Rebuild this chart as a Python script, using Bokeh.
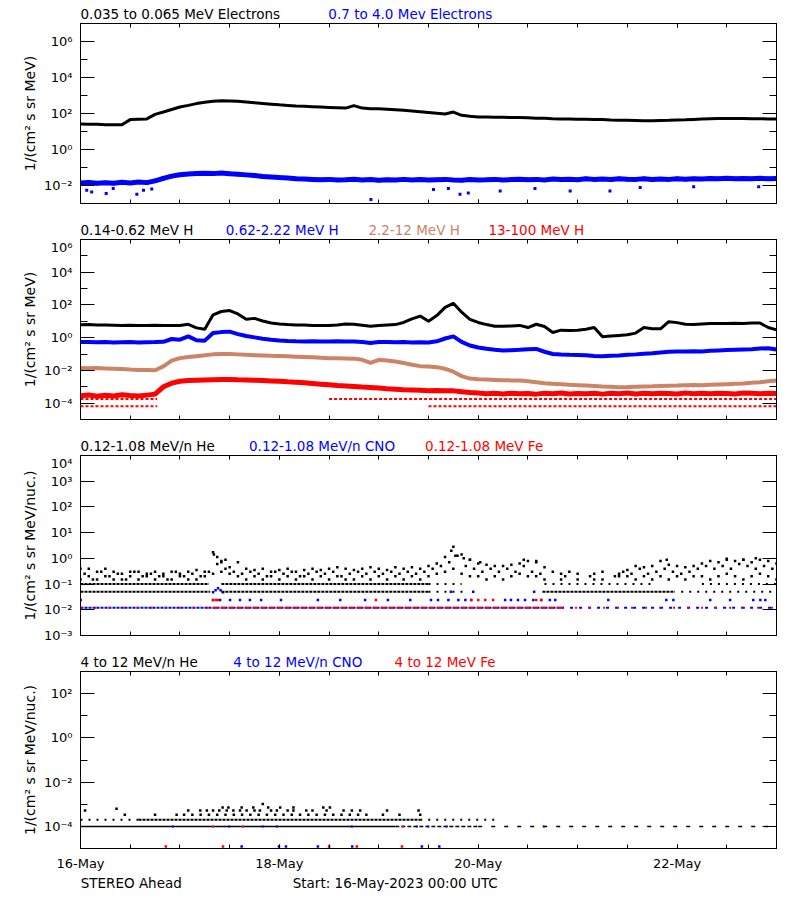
import numpy as np
import pandas as pd
from bokeh.plotting import figure
from bokeh.layouts import column
from bokeh.models import (Range1d, FixedTicker, CustomJSTickFormatter, DatetimeTickFormatter,
                          LogAxis, DatetimeAxis)
from bokeh.core.properties import value
from bokeh.embed import file_html
from bokeh.resources import INLINE

nan = float("nan")

START = pd.Timestamp("2023-05-16 00:00")
END = pd.Timestamp("2023-05-23 00:00")
HOURS_2H = list(range(0, 169, 2))      # sample times, every 2 h
HOURS_ODD = list(range(1, 168, 2))     # sample times, odd hours

# ---------------- Panel 1 : electrons (log10 flux) ----------------
ELEC_LO_LOG = [1.41, 1.40, 1.40, 1.38, 1.37, 1.37, 1.66, 1.68, 1.70, 1.95, 2.08, 2.22,
               2.36, 2.45, 2.55, 2.62, 2.68, 2.71, 2.70, 2.68, 2.64, 2.60, 2.56, 2.52,
               2.48, 2.45, 2.42, 2.40, 2.38, 2.36, 2.34, 2.32, 2.30, 2.44, 2.30, 2.27,
               2.26, 2.24, 2.21, 2.18, 2.14, 2.10, 2.06, 2.02, 1.97, 2.08, 1.90, 1.85,
               1.81, 1.80, 1.79, 1.79, 1.78, 1.78, 1.76, 1.74, 1.73, 1.71, 1.70, 1.69,
               1.68, 1.68, 1.67, 1.66, 1.64, 1.63, 1.62, 1.61, 1.60, 1.60, 1.61, 1.62,
               1.64, 1.65, 1.67, 1.69, 1.71, 1.72, 1.72, 1.72, 1.72, 1.71, 1.71, 1.70, 1.70]
ELEC_HI_LOG = [-1.86, -1.83, -1.88, -1.85, -1.87, -1.82, -1.86, -1.80, -1.84, -1.74, -1.60, -1.48,
               -1.40, -1.36, -1.33, -1.32, -1.34, -1.31, -1.35, -1.37, -1.41, -1.45, -1.50, -1.53,
               -1.56, -1.58, -1.62, -1.64, -1.66, -1.68, -1.66, -1.70, -1.68, -1.65, -1.69, -1.67,
               -1.71, -1.68, -1.70, -1.66, -1.69, -1.67, -1.70, -1.68, -1.66, -1.69, -1.71, -1.67,
               -1.69, -1.68, -1.66, -1.70, -1.67, -1.65, -1.68, -1.66, -1.69, -1.64, -1.67, -1.65,
               -1.68, -1.63, -1.66, -1.64, -1.67, -1.62, -1.65, -1.66, -1.63, -1.67, -1.64, -1.66,
               -1.63, -1.65, -1.62, -1.64, -1.61, -1.63, -1.60, -1.63, -1.61, -1.62, -1.60, -1.62, -1.61]
ELEC_HI_OUT_HOURS = [1.5, 2.7, 6.2, 7.9, 13.6, 15.2, 17.2, 70.1, 85.2, 88.8, 91.6, 93.6,
                     101.3, 109.7, 118.2, 127.8, 135.1, 148.0, 163.7]
ELEC_HI_OUT_LOG = [-2.26, -2.36, -2.45, -2.17, -2.48, -2.26, -2.20, -2.78, -2.22, -2.17, -2.48, -2.41,
                   -2.30, -2.17, -2.30, -2.30, -2.11, -2.07, -2.07]

# ---------------- Panel 2 : protons (log10 flux) ----------------
H_LO_LOG = [0.79, 0.80, 0.78, 0.77, 0.76, 0.75, 0.76, 0.74, 0.75, 0.76, 0.75, 0.74,
            0.75, 0.82, 0.60, 0.52, 1.40, 1.60, 1.66, 1.45, 1.12, 1.18, 1.02, 0.90,
            0.84, 0.80, 0.78, 0.77, 0.75, 0.74, 0.75, 0.78, 0.84, 0.82, 0.76, 0.70,
            0.74, 0.78, 0.80, 0.93, 1.15, 1.32, 1.00, 1.35, 1.85, 2.10, 1.56, 1.12,
            0.93, 0.80, 0.70, 0.70, 0.72, 0.75, 0.62, 0.82, 0.68, 0.32, 0.46, 0.44,
            0.46, 0.52, 0.62, 0.05, 0.10, 0.14, 0.18, 0.28, 0.62, 0.55, 0.54, 0.98,
            0.92, 0.82, 0.80, 0.83, 0.86, 0.87, 0.86, 0.88, 0.87, 0.89, 0.90, 0.62, 0.48]
H_MID_LOG = [-0.27, -0.26, -0.28, -0.27, -0.29, -0.28, -0.27, -0.29, -0.28, -0.27, -0.25, -0.08,
             -0.12, 0.08, -0.16, -0.18, 0.28, 0.34, 0.37, 0.22, 0.10, 0.02, -0.06, -0.12,
             -0.17, -0.20, -0.22, -0.23, -0.22, -0.24, -0.23, -0.22, -0.24, -0.23, -0.27, -0.32,
             -0.27, -0.26, -0.28, -0.27, -0.29, -0.28, -0.30, -0.22, -0.05, 0.08, -0.26, -0.48,
             -0.60, -0.68, -0.74, -0.78, -0.77, -0.74, -0.70, -0.69, -0.86, -1.00, -1.03, -1.05,
             -1.06, -1.08, -1.12, -1.13, -1.10, -1.09, -1.05, -1.02, -0.98, -0.95, -0.90, -0.86,
             -0.84, -0.85, -0.83, -0.84, -0.80, -0.78, -0.76, -0.74, -0.72, -0.70, -0.66, -0.64, -0.72]
H_HI_LOG = [-1.86, -1.87, -1.86, -1.88, -1.90, -1.92, -1.95, -1.97, -1.98, -1.99, -1.75, -1.40,
            -1.25, -1.18, -1.13, -1.08, -1.02, -1.00, -0.99, -1.02, -1.05, -1.07, -1.09, -1.11,
            -1.12, -1.14, -1.16, -1.18, -1.20, -1.22, -1.25, -1.26, -1.27, -1.28, -1.35, -1.54,
            -1.35, -1.40, -1.46, -1.55, -1.65, -1.74, -1.76, -1.80, -1.90, -2.08, -2.35, -2.50,
            -2.54, -2.56, -2.58, -2.60, -2.61, -2.62, -2.66, -2.72, -2.78, -2.82, -2.85, -2.88,
            -2.90, -2.92, -2.95, -2.98, -3.00, -3.03, -3.02, -3.00, -2.98, -2.97, -2.95, -2.93,
            -2.92, -2.90, -2.89, -2.90, -2.88, -2.86, -2.84, -2.82, -2.80, -2.76, -2.72, -2.66, -2.62]
H_VHI_LOG = [-3.55, -3.50, -3.58, -3.52, -3.56, -3.49, -3.54, -3.57, -3.51, -3.45, -3.00, -2.78,
             -2.66, -2.62, -2.60, -2.58, -2.57, -2.56, -2.55, -2.57, -2.58, -2.60, -2.62, -2.64,
             -2.66, -2.70, -2.73, -2.76, -2.80, -2.84, -2.88, -2.92, -2.95, -2.98, -3.02, -3.05,
             -3.08, -3.12, -3.15, -3.18, -3.20, -3.22, -3.24, -3.23, -3.24, -3.25, -3.30, -3.35,
             -3.38, -3.42, -3.40, -3.44, -3.39, -3.43, -3.41, -3.45, -3.40, -3.42, -3.38, -3.44,
             -3.41, -3.43, -3.39, -3.45, -3.40, -3.42, -3.38, -3.44, -3.40, -3.43, -3.39, -3.41,
             -3.44, -3.38, -3.42, -3.40, -3.43, -3.39, -3.41, -3.44, -3.38, -3.40, -3.42, -3.39, -3.41]
# quantised floor levels of the 13-100 MeV channel: (log10 level, start h, end h)
H_VHI_FLOOR_LOG = [-3.74, -3.74, -4.19, -4.19]
H_VHI_FLOOR_START = [0, 60, 0, 84]
H_VHI_FLOOR_END = [18.5, 168, 18.5, 168]

# ---------------- Panel 3 : 0.12-1.08 MeV/n heavy ions ----------------
HE3_TOP_LOG = [-0.40, -0.40, -0.52, -0.40, -0.52, -0.60, -0.52, -0.52, -0.60, -0.52, -0.60, -0.52,
               -0.60, -0.52, -0.45, -0.52, 0.24, -0.10, -0.35, -0.15, -0.40, -0.45, -0.40, -0.52,
               -0.45, -0.40, -0.52, -0.45, -0.40, -0.45, -0.40, -0.35, -0.40, -0.45, -0.40, -0.35,
               -0.40, -0.45, -0.35, -0.40, -0.35, -0.40, -0.30, -0.20, 0.05, 0.45, 0.15, -0.05,
               -0.20, -0.25, -0.30, -0.30, -0.25, -0.20, -0.10, -0.15, -0.35, -0.52, -0.60, -0.52,
               -0.60, nan, -0.60, -0.52, nan, -0.60, -0.45, -0.30, -0.35, -0.30, -0.10, -0.25,
               -0.30, -0.35, -0.30, -0.20, -0.10, -0.15, -0.05, -0.10, -0.05, -0.15, -0.05, -0.10, -0.20]
HE3_MID_LOG = [-0.82, -0.70, -0.82, -0.70, -0.82, -0.82, -0.70, -0.82, -0.70, -0.82, -0.70, -0.82,
               -0.70, -0.82, -0.82, -0.70, -0.60, -0.52, -0.60, -0.70, -0.82, -0.70, -0.82, -0.70,
               -0.82, -0.70, -0.82, -0.70, -0.82, -0.70, -0.82, -0.70, -0.82, -0.82, -0.70, -0.82,
               -0.70, -0.82, -0.70, -0.82, -0.70, -0.82, -0.70, -0.60, -0.52, -0.40, -0.60, -0.70,
               -0.70, -0.82, -0.70, -0.82, -0.70, -0.60, -0.70, -0.70, -0.82, nan, -0.82, nan,
               -0.82, nan, -0.82, -0.82, nan, -0.70, -0.70, -0.82, -0.70, -0.82, -0.70, -0.82,
               -0.70, -0.82, -0.70, -0.70, -0.82, -0.70, -0.60, -0.70, -0.82, -0.70, -0.60, -0.70, -0.82]
HE3_ODD_LOG = [-0.60, -0.82, -0.52, -0.70, -0.60, -0.82, -0.52, -0.70, -0.60, -0.70, -0.82, -0.52,
               -0.70, -0.60, -0.70, -0.52, -0.22, -0.40, -0.52, -0.60, -0.52, -0.60, -0.70, -0.52,
               -0.60, -0.52, -0.70, -0.60, -0.52, -0.60, -0.52, -0.70, -0.60, -0.52, -0.60, -0.52,
               -0.60, -0.52, -0.60, -0.52, -0.60, -0.52, -0.40, -0.30, -0.15, 0.10, -0.30, -0.40,
               -0.52, -0.40, -0.52, -0.40, -0.52, -0.30, -0.52, -0.60, nan, nan, -0.70, nan,
               nan, -0.70, nan, nan, -0.70, -0.52, -0.60, -0.40, -0.60, -0.52, -0.40, -0.52,
               -0.60, -0.52, -0.40, -0.30, -0.40, -0.30, -0.40, -0.22, -0.30, -0.40, -0.30, -0.40]
HE3_EXTRA_HOURS = [32.2, 33.0, 34.0, 35.0, 89.5, 90.5, 92.5, 94.0, 96.5, 107.0, 110.0, 141.5, 156.0, 160.0, 163.0]
HE3_EXTRA_LOG = [0.15, 0.05, -0.15, -0.05, 0.30, 0.10, 0.0, -0.05, -0.15, -0.05, -0.10, -0.05, -0.02, -0.05, 0.0]
# count-level rows of He (flux, start h, end h), dense and sparse stretches
HE3_ROW_DENSE_FLUX = [0.05, 0.05, 0.05, 0.1, 0.1]
HE3_ROW_DENSE_START = [0, 34, 111.5, 0, 34]
HE3_ROW_DENSE_END = [31.3, 84, 143.5, 31, 84]
HE3_ROW_SPARSE_FLUX = [0.05, 0.05, 0.1, 0.1, 0.1]
HE3_ROW_SPARSE_START = [84, 145, 84, 112, 150]
HE3_ROW_SPARSE_END = [93, 168, 92, 138, 168]
# CNO / Fe one-count row (flux 0.012)
CNO3_ROW_FLUX = 0.012
CNO3_DENSE = [0, 116]
CNO3_SPARSE = [116, 168]
FE3_DENSE = [32, 116]
FE3_SPARSE = [[0, 32], [116, 168]]
CNO3_TWO_HOURS = [0.05, 32, 33.7, 36.1, 38.5, 40.9, 43.6, 48.4, 57.3, 62.7, 68.7, 74.2, 79.6, 84.6, 86.3,
                  88.8, 91.2, 92.9, 94.3, 102.5, 103.9, 105.6, 107.3, 109.3, 111.2, 113.3, 114.6, 127.4,
                  141.4, 143.1, 152.0, 156.8, 162.4, 164.1, 165.3]
FE3_TWO_HOURS = [32, 32.7, 33.2, 71.3, 94.3, 96.0, 97.7, 99.6, 110.0, 111.2]
CNO3_PEAK_HOURS = [32.0, 32.6, 33.2, 33.8, 34.4, 89.4, 94.8, 109.5]
CNO3_PEAK_LOG = [-1.32, -1.24, -1.16, -1.24, -1.32, -1.30, -1.30, -1.30]

# ---------------- Panel 4 : 4-12 MeV/n heavy ions ----------------
HE4_ROW_FLUX = [1e-4, 1e-4, 1e-4, 2e-4, 2e-4, 2e-4]
HE4_ROW_START = [0, 76, 96, 0, 14, 82]
HE4_ROW_END = [76, 96, 168, 14, 82, 100]
HE4_SCAT_HOURS = [1.1, 8.7, 10.7, 18.0, 23.2, 25.0, 27.0, 29.0, 31.0, 33.0, 35.0, 37.0, 39.0, 41.0,
                  43.0, 45.0, 47.0, 49.0, 51.0, 53.0, 55.0, 57.0, 59.0, 61.0, 63.0, 65.0, 67.0, 69.0,
                  73.0, 77.0, 82.0,
                  26.0, 28.9, 30.5, 32.0, 33.5, 35.3, 36.9, 38.5, 40.1, 42.0, 43.3, 46.0, 47.4, 50.0,
                  51.4, 54.5, 56.0, 59.4, 63.5, 65.5, 67.5, 74.0, 81.6,
                  34.3, 35.7, 38.9, 41.7, 45.3, 48.2, 51.4, 58.6, 60.2, 44.0]
HE4_SCAT_LOG = [-3.28, -3.20, -3.48, -3.48, -3.48, -3.48, -3.48, -3.48, -3.48, -3.48, -3.48, -3.48, -3.48, -3.48,
                -3.48, -3.48, -3.48, -3.48, -3.48, -3.48, -3.48, -3.48, -3.48, -3.48, -3.48, -3.48, -3.48, -3.48,
                -3.48, -3.48, -3.48,
                -3.28, -3.28, -3.28, -3.28, -3.28, -3.28, -3.28, -3.28, -3.28, -3.28, -3.28, -3.28, -3.28, -3.28,
                -3.28, -3.28, -3.28, -3.28, -3.28, -3.28, -3.28, -3.28, -3.28,
                -3.15, -3.15, -3.15, -3.15, -3.15, -3.15, -3.15, -3.15, -3.15, -2.99]
CNO4_ROW_HOURS = [22.3, 35.9, 44.0, 47.4, 65.5, 81.2, 83.9, 88.4, 111.8]
FE4_ROW_HOURS = [32.0, 39.2, 77.8]
CNO4_LOW_HOURS = [38.9, 47.9, 49.6, 57.3, 65.6, 82.4, 86.6]
FE4_LOW_HOURS = [20.6, 34.4, 60.0, 66.7, 77.6]
LOW4_FLUX = 1.23e-5

# ---------------- titles (text, start hour) ----------------
TITLES_1 = ["0.035 to 0.065 MeV Electrons", "0.7 to 4.0 Mev Electrons"]
TITLES_1_HOUR = [0, 59.83]
TITLES_2 = ["0.14-0.62 MeV H", "0.62-2.22 MeV H", "2.2-12 MeV H", "13-100 MeV H"]
TITLES_2_HOUR = [0, 35.06, 69.49, 98.46]
TITLES_3 = ["0.12-1.08 MeV/n He", "0.12-1.08 MeV/n CNO", "0.12-1.08 MeV Fe"]
TITLES_3_HOUR = [0, 40.68, 83.18]
TITLES_4 = ["4 to 12 MeV/n He", "4 to 12 MeV/n CNO", "4 to 12 MeV Fe"]
TITLES_4_HOUR = [0, 36.9, 75.8]
FOOTER = ["STEREO Ahead", "Start: 16-May-2023 00:00 UTC"]
FOOTER_HOUR = [0.05, 51.23]

BLACK, BLUE, RED, BROWN = "#000000", "#0000ff", "#ff0000", "#cd8466"
FONT = "DejaVu Sans"
LEFT, RIGHT, WIDTH = 80, 12, 788
X_RANGE = Range1d(START, END)


def tt(hours):
    return START + pd.to_timedelta(np.asarray(hours, dtype=float), unit="h")


def ms(hours):
    return (START + pd.Timedelta(hours=hours)).value / 1e6


def flux(logs):
    return np.power(10.0, np.asarray(logs, dtype=float))


SUP = CustomJSTickFormatter(code="""
const s = {"-":"\u207b","0":"\u2070","1":"\u00b9","2":"\u00b2","3":"\u00b3","4":"\u2074",
           "5":"\u2075","6":"\u2076","7":"\u2077","8":"\u2078","9":"\u2079"};
const e = Math.round(Math.log10(tick));
return "10" + String(e).split("").map(c => s[c]).join("");
""")
BLANK = CustomJSTickFormatter(code="return '';")

X_MAJOR = [ms(h) for h in (0, 48, 96, 144)]
X_MINOR = [ms(h) for h in range(0, 169, 12)]


def text_strip(height, texts, hours, colors, mid):
    h = figure(title=None, width=WIDTH, height=height, x_axis_type="datetime", x_range=X_RANGE,
               y_range=Range1d(0, height), x_axis_location=None, y_axis_location=None,
               output_backend="svg", toolbar_location=None,
               min_border_left=LEFT, min_border_right=RIGHT, min_border_top=0, min_border_bottom=0)
    h.grid.visible = False
    h.outline_line_color = None
    h.text(x=tt(hours), y=[mid] * len(texts), text=texts, text_color=colors,
           text_font=value(FONT), text_font_size="13.5px", text_baseline="middle",
           text_align="left")
    return h


def make_panel(ylo, yhi, major, minor, ylabel, height, bottom, show_dates, lab_standoff):
    p = figure(title=None, width=WIDTH, height=height, x_axis_type="datetime", y_axis_type="log",
               x_range=X_RANGE, y_range=Range1d(ylo, yhi),
               output_backend="svg", toolbar_location=None,
               min_border_left=LEFT, min_border_right=RIGHT, min_border_top=0,
               min_border_bottom=bottom)
    p.grid.visible = False
    p.outline_line_color = "black"
    p.outline_line_width = 1
    yt = FixedTicker(ticks=major, minor_ticks=minor)
    ya = p.yaxis[0]
    ya.ticker = yt
    ya.formatter = SUP
    ya.major_tick_in, ya.major_tick_out = 14, 0
    ya.minor_tick_in, ya.minor_tick_out = 7, 0
    ya.major_label_standoff = 8
    ya.major_label_text_font = FONT
    ya.major_label_text_font_size = "13px"
    ya.major_label_text_color = "black"
    ya.axis_label = ylabel
    ya.axis_label_text_font = FONT
    ya.axis_label_text_font_size = "14px"
    ya.axis_label_text_font_style = "normal"
    ya.axis_label_text_color = "black"
    ya.axis_label_standoff = lab_standoff
    ya.axis_line_color = "black"
    ya.major_tick_line_color = "black"
    ya.minor_tick_line_color = "black"

    xt = FixedTicker(ticks=X_MAJOR, minor_ticks=X_MINOR)
    xa = p.xaxis[0]
    xa.ticker = xt
    xa.major_tick_in, xa.major_tick_out = 4, 0
    xa.minor_tick_in, xa.minor_tick_out = 4, 0
    xa.axis_line_color = "black"
    xa.major_tick_line_color = "black"
    xa.minor_tick_line_color = "black"
    if show_dates:
        xa.formatter = DatetimeTickFormatter(days="%d-%b", months="%d-%b", hours="%d-%b")
        xa.major_label_standoff = 7
        xa.major_label_text_font = FONT
        xa.major_label_text_font_size = "13px"
        xa.major_label_text_color = "black"
    else:
        xa.formatter = BLANK
        xa.major_label_standoff = 0
        xa.major_label_text_font_size = "0px"

    ra = LogAxis(ticker=yt, formatter=BLANK, major_tick_in=14, major_tick_out=0,
                 minor_tick_in=7, minor_tick_out=0, major_label_standoff=0,
                 major_label_text_font_size="0px")
    p.add_layout(ra, "right")
    ta = DatetimeAxis(ticker=xt, formatter=BLANK, major_tick_in=4, major_tick_out=0,
                      minor_tick_in=4, minor_tick_out=0, major_label_standoff=0,
                      major_label_text_font_size="0px")
    p.add_layout(ta, "above")
    return p


def dots(p, hours, fl, color, size=3):
    p.scatter(tt(hours), fl, marker="square", size=size, fill_color=color, line_color=None)


def rows(p, starts, ends, fl, color, dash, width=2):
    p.segment(x0=tt(starts), y0=fl, x1=tt(ends), y1=fl, line_color=color, line_width=width,
              line_dash=dash)


# ---------- Panel 1 ----------
h1 = text_strip(23, TITLES_1, TITLES_1_HOUR, [BLACK, BLUE], 9.5)
p1 = make_panel(1e-3, 1e7, [1e-2, 1, 1e2, 1e4, 1e6], [1e-1, 1e1, 1e3, 1e5],
                "1/(cm\u00b2 s sr MeV)", 193, 13, False, 3)
p1.line(tt(HOURS_2H), flux(ELEC_HI_LOG), line_color=BLUE, line_width=5)
dots(p1, HOURS_2H, flux(ELEC_HI_LOG), BLUE, 4)
dots(p1, ELEC_HI_OUT_HOURS, flux(ELEC_HI_OUT_LOG), BLUE, 3)
p1.line(tt(HOURS_2H), flux(ELEC_LO_LOG), line_color=BLACK, line_width=3)

# ---------- Panel 2 ----------
h2 = text_strip(23, TITLES_2, TITLES_2_HOUR, [BLACK, BLUE, BROWN, RED], 9.5)
p2 = make_panel(1e-5, 1e6, [1e-4, 1e-2, 1, 1e2, 1e4, 1e6], [1e-3, 1e-1, 1e1, 1e3, 1e5],
                "1/(cm\u00b2 s sr MeV)", 193, 13, False, 3)
rows(p2, H_VHI_FLOOR_START, H_VHI_FLOOR_END, flux(H_VHI_FLOOR_LOG), RED, "3 2", 2)
p2.line(tt(HOURS_2H), flux(H_VHI_LOG), line_color=RED, line_width=5)
p2.line(tt(HOURS_2H), flux(H_HI_LOG), line_color=BROWN, line_width=4)
p2.line(tt(HOURS_2H), flux(H_MID_LOG), line_color=BLUE, line_width=4)
p2.line(tt(HOURS_2H), flux(H_LO_LOG), line_color=BLACK, line_width=3)

# ---------- Panel 3 ----------
h3 = text_strip(23, TITLES_3, TITLES_3_HOUR, [BLACK, BLUE, RED], 9.5)
p3 = make_panel(1e-3, 1e4, [1e-3, 1e-2, 1e-1, 1, 1e1, 1e2, 1e3, 1e4], [],
                "1/(cm\u00b2 s sr MeV/nuc.)", 193, 13, False, 3)
rows(p3, [CNO3_DENSE[0]], [CNO3_DENSE[1]], CNO3_ROW_FLUX, BLUE, "3 1", 2)
rows(p3, [CNO3_SPARSE[0]], [CNO3_SPARSE[1]], CNO3_ROW_FLUX, BLUE, "3 6", 2)
rows(p3, [FE3_DENSE[0]], [FE3_DENSE[1]], CNO3_ROW_FLUX, RED, "5 3", 2)
rows(p3, [s[0] for s in FE3_SPARSE], [s[1] for s in FE3_SPARSE], CNO3_ROW_FLUX, RED, "2 12", 2)
dots(p3, CNO3_TWO_HOURS, [2 * CNO3_ROW_FLUX] * len(CNO3_TWO_HOURS), BLUE, 2.5)
dots(p3, FE3_TWO_HOURS, [2 * CNO3_ROW_FLUX] * len(FE3_TWO_HOURS), RED, 2.5)
dots(p3, CNO3_PEAK_HOURS, flux(CNO3_PEAK_LOG), BLUE, 2.5)
rows(p3, HE3_ROW_DENSE_START, HE3_ROW_DENSE_END, HE3_ROW_DENSE_FLUX, BLACK, "3 1", 2)
rows(p3, HE3_ROW_SPARSE_START, HE3_ROW_SPARSE_END, HE3_ROW_SPARSE_FLUX, BLACK, "2 6", 2)
dots(p3, HOURS_2H, flux(HE3_MID_LOG), BLACK, 2.5)
dots(p3, HOURS_ODD, flux(HE3_ODD_LOG), BLACK, 2.5)
dots(p3, HOURS_2H, flux(HE3_TOP_LOG), BLACK, 2.5)
dots(p3, HE3_EXTRA_HOURS, flux(HE3_EXTRA_LOG), BLACK, 2.5)

# ---------- Panel 4 ----------
h4 = text_strip(23, TITLES_4, TITLES_4_HOUR, [BLACK, BLUE, RED], 9.5)
p4 = make_panel(1e-5, 1e3, [1e-4, 1e-2, 1, 1e2], [1e-3, 1e-1, 1e1],
                "1/(cm\u00b2 s sr MeV/nuc.)", 202, 22, True, 3)
rows(p4, HE4_ROW_START[:1], HE4_ROW_END[:1], HE4_ROW_FLUX[:1], BLACK, "solid", 1.5)
rows(p4, HE4_ROW_START[1:2], HE4_ROW_END[1:2], HE4_ROW_FLUX[1:2], BLACK, "4 2", 1.5)
rows(p4, HE4_ROW_START[2:3], HE4_ROW_END[2:3], HE4_ROW_FLUX[2:3], BLACK, "4 9", 1.5)
rows(p4, HE4_ROW_START[3:4], HE4_ROW_END[3:4], HE4_ROW_FLUX[3:4], BLACK, "2 6", 2)
rows(p4, HE4_ROW_START[4:5], HE4_ROW_END[4:5], HE4_ROW_FLUX[4:5], BLACK, "3 1", 2)
rows(p4, HE4_ROW_START[5:6], HE4_ROW_END[5:6], HE4_ROW_FLUX[5:6], BLACK, "2 6", 2)
dots(p4, HE4_SCAT_HOURS, flux(HE4_SCAT_LOG), BLACK, 2.5)
dots(p4, CNO4_ROW_HOURS, [1e-4] * len(CNO4_ROW_HOURS), BLUE, 2)
dots(p4, FE4_ROW_HOURS, [1e-4] * len(FE4_ROW_HOURS), RED, 2)
dots(p4, CNO4_LOW_HOURS, [LOW4_FLUX] * len(CNO4_LOW_HOURS), BLUE, 2.5)
dots(p4, FE4_LOW_HOURS, [LOW4_FLUX] * len(FE4_LOW_HOURS), RED, 2.5)

f4 = text_strip(25, FOOTER, FOOTER_HOUR, [BLACK, BLACK], 16)

layout = column(h1, p1, h2, p2, h3, p3, h4, p4, f4, spacing=0)
open("out.html", "w").write(file_html(layout, INLINE))
